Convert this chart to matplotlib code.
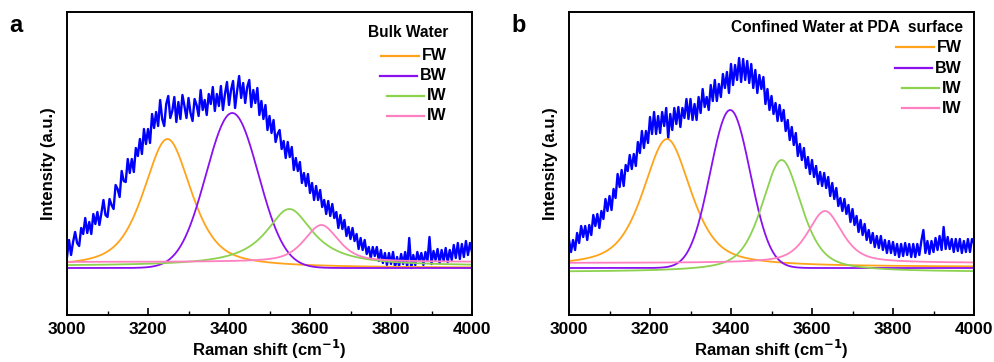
import numpy as np
import matplotlib
matplotlib.use("Agg")
import matplotlib.pyplot as plt

plt.rcParams['font.family'] = ['Liberation Sans', 'DejaVu Sans']
plt.rcParams['font.weight'] = 'bold'

# Raman shift grid of the measured spectra (cm-1), 5 cm-1 steps
shift = np.arange(3000, 4001, 5)

# measured spectrum, panel a (bulk water), arbitrary units
bulk_spec = [
    58, 75, 60, 73, 83, 72, 69, 87, 81, 97,
    82, 93, 81, 101, 91, 103, 90, 102, 115, 100,
    98, 116, 110, 106, 130, 126, 118, 144, 134, 133,
    156, 142, 156, 143, 167, 159, 176, 161, 186, 171,
    186, 172, 201, 187, 203, 189, 215, 196, 189, 211,
    219, 197, 204, 218, 193, 213, 196, 220, 209, 197,
    217, 202, 194, 216, 210, 199, 225, 205, 215, 200,
    221, 211, 228, 204, 221, 209, 229, 205, 221, 233,
    210, 225, 234, 207, 224, 239, 217, 232, 212, 228,
    235, 208, 225, 212, 227, 200, 214, 196, 210, 185,
    199, 182, 195, 173, 181, 185, 166, 174, 157, 173,
    158, 168, 145, 157, 144, 153, 132, 142, 129, 141,
    122, 132, 115, 129, 115, 125, 108, 115, 101, 114,
    99, 111, 97, 103, 87, 100, 86, 95, 79, 88,
    76, 87, 74, 81, 66, 77, 65, 75, 61, 68,
    57, 68, 59, 68, 54, 65, 52, 62, 50, 62,
    51, 63, 48, 58, 49, 61, 51, 63, 48, 77,
    47, 60, 50, 63, 54, 62, 50, 63, 54, 78,
    51, 64, 55, 66, 52, 65, 54, 67, 53, 65,
    55, 70, 57, 72, 56, 71, 58, 74, 60, 72,
    63,
]

# measured spectrum, panel b (confined water at PDA surface)
conf_spec = [
    75, 63, 75, 65, 82, 72, 89, 78, 89, 75,
    90, 80, 100, 89, 101, 87, 104, 96, 116, 104,
    119, 105, 126, 117, 141, 128, 145, 129, 150, 144,
    160, 146, 161, 149, 173, 162, 184, 167, 184, 172,
    198, 181, 203, 181, 199, 182, 203, 189, 207, 177,
    201, 185, 207, 191, 208, 188, 207, 197, 216, 196,
    216, 195, 211, 195, 218, 202, 226, 208, 218, 205,
    230, 214, 235, 214, 231, 218, 241, 227, 243, 222,
    251, 230, 250, 235, 257, 233, 256, 235, 254, 232,
    251, 227, 245, 222, 240, 226, 238, 211, 226, 205,
    219, 201, 212, 194, 210, 194, 205, 184, 195, 175,
    188, 170, 182, 159, 171, 155, 167, 147, 158, 141,
    155, 138, 149, 131, 143, 129, 142, 127, 138, 119,
    132, 116, 127, 109, 117, 104, 116, 101, 110, 93,
    106, 90, 99, 83, 95, 80, 91, 75, 85, 72,
    82, 68, 79, 67, 79, 65, 75, 62, 74, 62,
    73, 60, 71, 58, 71, 59, 72, 60, 71, 58,
    71, 58, 71, 60, 74, 85, 62, 74, 61, 74,
    63, 77, 65, 79, 65, 88, 66, 78, 66, 76,
    63, 76, 64, 76, 62, 74, 63, 76, 63, 76,
    72,
]

# fitted components: centre, height, half width, lorentz fraction, offset
peak_names = ['FW', 'BW', 'IW', 'IW']
peak_colors = ['#ffa31a', '#8a10f0', '#8cd24e', '#ff80c0']

bulk_center = [3248, 3408, 3549, 3628]
bulk_height = [129, 155, 57, 37]
bulk_width = [70, 76, 71, 50]
bulk_eta = [0.6, 0.0, 1.0, 0.6]
bulk_offset = [47, 47, 49, 53]

conf_center = [3242, 3398, 3525, 3632]
conf_height = [128, 158, 112, 52]
conf_width = [70, 58, 58, 50]
conf_eta = [0.6, 0.0, 0.55, 0.6]
conf_offset = [48, 47, 43, 52]

fit_x = np.linspace(3000, 4000, 801)


def pvoigt(x, c, h, w, eta, off):
    u = ((x - c) / w) ** 2
    return off + h * (eta / (1 + u) + (1 - eta) * np.exp(-np.log(2) * u))


fig = plt.figure(figsize=(9.95, 3.62), dpi=100)
ax_a = fig.add_axes([67 / 995, 47 / 362, 405 / 995, 303 / 362])
ax_b = fig.add_axes([569 / 995, 47 / 362, 405 / 995, 303 / 362])
renderer = fig.canvas.get_renderer()


def key(ax, title, xr, ytitle, ys):
    ax.text(xr + 0.003, ytitle, title, transform=ax.transAxes, ha='right',
            va='center', fontsize=11.2, fontweight='bold')
    for name, col, y in zip(peak_names, peak_colors, ys):
        t = ax.text(xr, y, name, transform=ax.transAxes, ha='right',
                    va='center', fontsize=11.5, fontweight='bold')
        bb = t.get_window_extent(renderer)
        x0 = ax.transAxes.inverted().transform((bb.x0, 0))[0]
        ax.plot([x0 - 0.100, x0 - 0.008], [y, y], color=col, lw=1.6,
                transform=ax.transAxes, clip_on=False)


def panel(ax, spec, cen, hei, wid, eta, off):
    ax.plot(shift, spec, color='#0000ff', lw=1.7, zorder=1)
    for i in range(4):
        ax.plot(fit_x, pvoigt(fit_x, cen[i], hei[i], wid[i], eta[i], off[i]),
                color=peak_colors[i], lw=1.3, zorder=2)
    ax.set_xlim(3000, 4000)
    ax.set_ylim(0, 303)
    ax.set_yticks([])
    ax.set_xticks(range(3000, 4001, 200))
    ax.set_xticks(range(3100, 4000, 200), minor=True)
    ax.tick_params(axis='x', which='major', direction='in', length=5,
                   width=1.2, labelsize=12.5, pad=5)
    ax.tick_params(axis='x', which='minor', direction='in', length=3, width=1.0)
    for lab in ax.get_xticklabels():
        lab.set_fontweight('bold')
    for s in ax.spines.values():
        s.set_linewidth(1.4)
    ax.set_xlabel('Raman shift (cm$^{\\mathbf{-1}}$)', fontsize=12,
                  fontweight='bold')
    ax.xaxis.set_label_coords(0.5, -0.075)
    ax.set_ylabel('Intensity (a.u.)', fontsize=12, fontweight='bold',
                  labelpad=8)


panel(ax_a, bulk_spec, bulk_center, bulk_height, bulk_width, bulk_eta,
      bulk_offset)
panel(ax_b, conf_spec, conf_center, conf_height, conf_width, conf_eta,
      conf_offset)

key(ax_a, 'Bulk Water', 0.938, 0.931, [0.855, 0.789, 0.723, 0.657])
key(ax_b, 'Confined Water at PDA  surface', 0.970, 0.950,
    [0.884, 0.815, 0.749, 0.683])

fig.text(16 / 995, 1 - 26 / 362, 'a', fontsize=17, fontweight='bold',
         ha='center', va='center')
fig.text(519 / 995, 1 - 26 / 362, 'b', fontsize=17, fontweight='bold',
         ha='center', va='center')

fig.savefig('out.png', dpi=100)
